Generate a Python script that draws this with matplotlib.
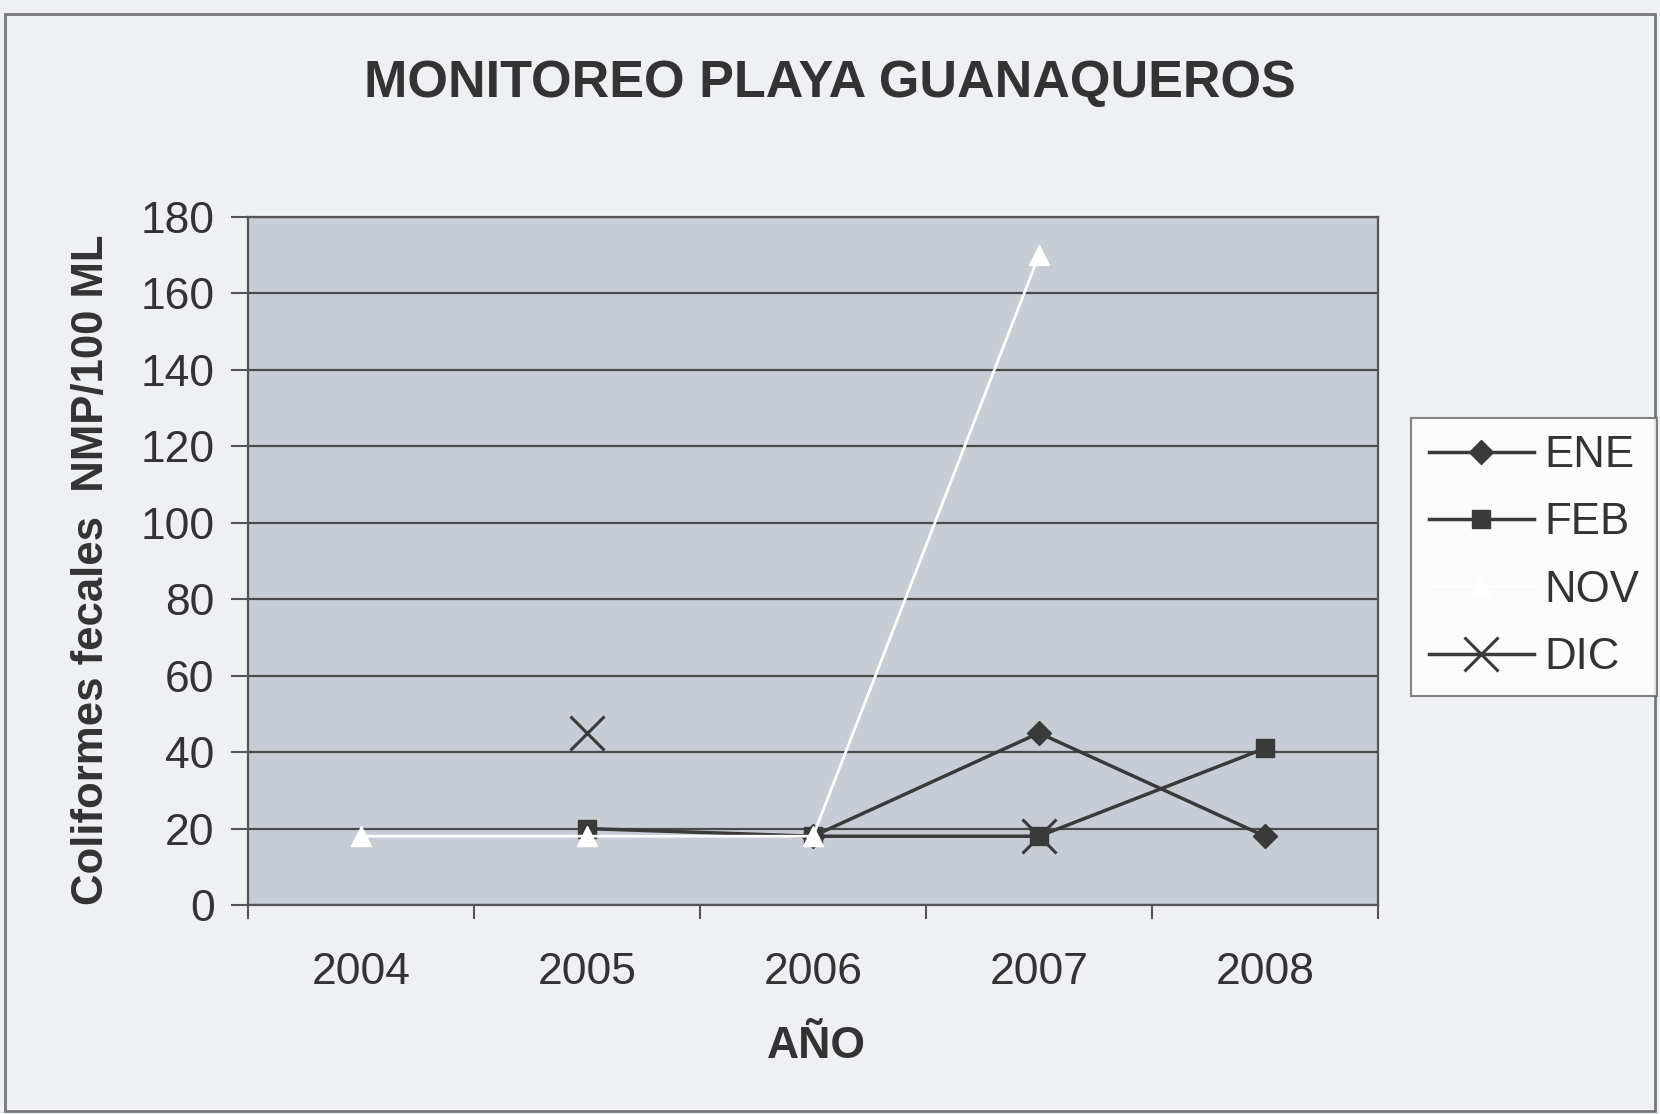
import numpy as np
import matplotlib
matplotlib.use("Agg")
import matplotlib.pyplot as plt
from matplotlib.patches import Rectangle

plt.rcParams["font.family"] = ["Liberation Sans", "DejaVu Sans"]

years = ["2004", "2005", "2006", "2007", "2008"]
ene = [np.nan, np.nan, 18, 45, 18]
feb = [np.nan, 20, 18, 18, 41]
nov = [18, 18, 18, 170, np.nan]
dic = [np.nan, 45, np.nan, 18, np.nan]

x = np.arange(len(years))
dark = "#3a3a3a"

fig = plt.figure(figsize=(16.6, 11.14), dpi=100, facecolor="#eef0f3")
ax = fig.add_axes([0.1494, 0.1876, 0.6807, 0.6176])
ax.set_facecolor("#c8ccd4")

ax.plot(x, ene, color=dark, lw=2.5, marker="D", ms=12, label="ENE")
ax.plot(x, feb, color=dark, lw=2.5, marker="s", ms=13, label="FEB")
ax.plot(x, nov, color="white", lw=2, marker="^", ms=15, label="NOV")
ax.plot(x, dic, color=dark, lw=2.5, marker="x", ms=24, mew=2.2, label="DIC")

ax.set_xlim(-0.5, 4.5)
ax.set_ylim(0, 180)
ax.set_yticks(range(0, 181, 20))
ax.set_xticks(x)
ax.set_xticklabels(years)
ax.set_xticks(np.arange(-0.5, 5, 1), minor=True)
ax.tick_params(axis="x", which="major", length=0, pad=34, labelsize=32, labelcolor="#333")
ax.tick_params(axis="x", which="minor", length=10, width=1.5, color="#555", direction="out")
ax.tick_params(axis="y", length=12, width=1.5, color="#555", pad=12, labelsize=32, labelcolor="#333")
ax.yaxis.grid(True, color="#4a4a4a", lw=1.6)
ax.set_axisbelow(True)
for s in ax.spines.values():
    s.set_color("#555")
    s.set_linewidth(1.6)

fig.text(0.5, 0.925, "MONITOREO PLAYA GUANAQUEROS", ha="center", va="center",
         fontsize=37.5, fontweight="bold", color="#333")
fig.text(0.492, 0.061, "AÑO", ha="center", va="center",
         fontsize=32, fontweight="bold", color="#333")
fig.text(0.055, 0.489, "Coliformes fecales  NMP/100 ML", ha="center", va="center",
         rotation=90, fontsize=31.5, fontweight="bold", color="#333")

leg = fig.legend(loc="upper left", bbox_to_anchor=(0.85, 0.625), fontsize=31.5,
                 frameon=True, fancybox=False, edgecolor="#666", facecolor="white",
                 handlelength=2.4, handletextpad=0.25, labelspacing=0.6,
                 borderpad=0.4, borderaxespad=0)
leg.get_frame().set_linewidth(1.5)
for t in leg.get_texts():
    t.set_color("#333")

fig.patches.append(Rectangle((0.003, 0.003), 0.994, 0.984, transform=fig.transFigure,
                             fill=False, edgecolor="#777", lw=2))

fig.savefig("out.png", dpi=100, facecolor=fig.get_facecolor())
